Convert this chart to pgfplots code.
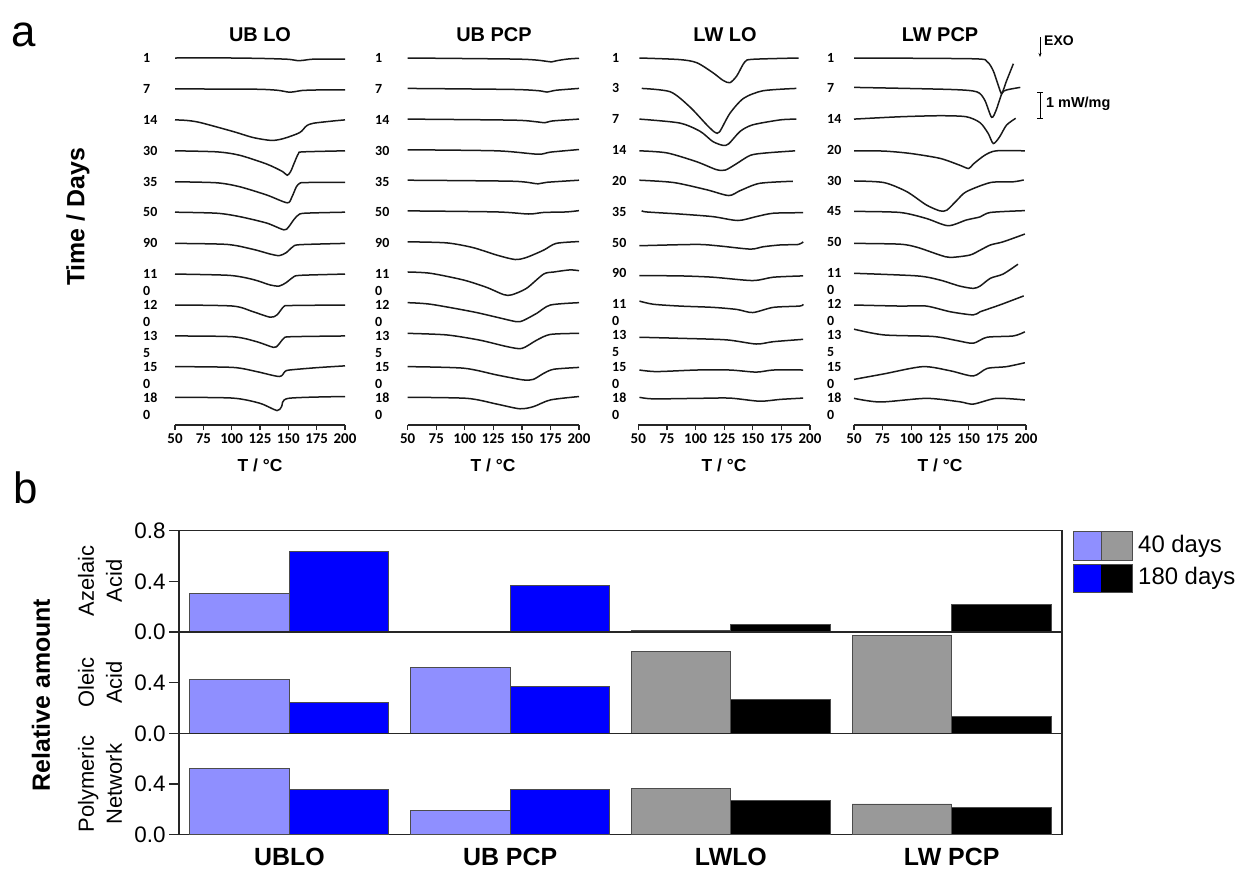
\documentclass[border=0pt]{standalone}
\usepackage{pgfplots}
\pgfplotsset{compat=1.18}
\usetikzlibrary{arrows.meta}
\usepackage{fontspec}
\setmainfont{Liberation Sans}
\newfontfamily\carl{Carlito}
\definecolor{ubl}{RGB}{143,143,255}
\definecolor{ubd}{RGB}{0,0,255}
\definecolor{lwl}{RGB}{153,153,153}
\definecolor{lwd}{RGB}{0,0,0}
\definecolor{crv}{RGB}{25,25,25}
\newcommand\fs[1]{\fontsize{#1}{#1}\selectfont}
\pgfplotsset{
 dscax/.style={scale only axis, height=380bp, xmin=50, xmax=200, ymin=-14.115, ymax=0.5,
   axis x line=bottom, axis y line=none, axis line style={-, line width=1.3bp, black!85},
   xtick={50,75,...,200}, tick align=outside, major tick length=5bp,
   tick style={line width=1.2bp, black!85},
   xticklabel style={font=\carl\bfseries\fs{15}},
   /pgf/number format/assume math mode=true, clip=false, anchor=south west},
 dsc/.style={line width=1.5bp, crv, smooth, tension=0.45, no markers},
 barax/.style={scale only axis, width=883bp, height=101.3bp, xmin=0.5, xmax=4.5, ymin=0, ymax=0.8,
   anchor=south west, axis line style={line width=1.5bp, black!85},
   xtick={1,2,3,4}, xticklabels={}, xtick style={draw=none},
   ytick pos=left, tick align=outside, major tick length=10bp,
   ytick style={line width=1.3bp, black!85},
   yticklabel style={font=\fs{22.5}, /pgf/number format/.cd, fixed, fixed zerofill, precision=1},
   /pgf/number format/assume math mode=true, ytick={0,0.4}},
 b40/.style={ybar, bar width=99.5bp, bar shift=-49.75bp, draw=black!70, line width=0.9bp},
 b180/.style={ybar, bar width=99.5bp, bar shift=49.75bp, draw=black!70, line width=0.9bp},
}
\newcommand\crv[2]{\addplot[dsc, y filter/.expression={y-#1}] coordinates {#2};}
\tikzset{lab/.style={anchor=west, font=\carl\bfseries\fs{14}, inner sep=0pt}}
\begin{document}
\begin{tikzpicture}[x=1bp,y=-1bp]
\path[use as bounding box] (0,0) rectangle (1246,869);
% ---------------- panel a ----------------
\begin{axis}[dscax, at={(175bp,-425bp)}, width=170bp]
\crv{0}{(50,0)(100,0)(130,-0.02)(150,-0.05)(158,-0.10)(163,-0.09)(170,-0.05)(180,-0.04)(200,-0.04)}
\crv{1.19}{(50,0)(120,-0.01)(140,-0.05)(150,-0.12)(155,-0.11)(162,-0.06)(175,-0.04)(200,-0.04)}
\crv{2.38}{(50,0)(60,-0.02)(72,-0.10)(101.5,-0.45)(119,-0.68)(135,-0.79)(145.6,-0.72)(160,-0.49)(166,-0.23)(172,-0.13)(190,-0.04)(200,0)}
\crv{3.57}{(50,0)(87,-0.04)(107,-0.17)(131,-0.51)(145,-0.80)(149,-0.94)(152,-0.80)(155,-0.49)(159,-0.10)(163,-0.04)(200,0)}
\crv{4.76}{(50,0)(87,-0.04)(107,-0.19)(131,-0.51)(149,-0.81)(153,-0.60)(157,-0.20)(160,-0.06)(165,-0.03)(200,-0.02)}
\crv{5.93}{(50,0)(87,-0.04)(107,-0.17)(131,-0.42)(146,-0.68)(150,-0.58)(155,-0.28)(160,-0.07)(170,-0.03)(200,0)}
\crv{7.13}{(50,0)(96,-0.04)(119,-0.23)(134,-0.41)(142,-0.47)(148,-0.36)(154,-0.13)(160,-0.05)(200,0)}
\crv{8.31}{(50,0)(98,-0.05)(119,-0.21)(134,-0.42)(142,-0.46)(148,-0.33)(154,-0.13)(160,-0.05)(200,0)}
\crv{9.50}{(50,0)(101,-0.04)(119,-0.26)(134,-0.47)(140,-0.38)(146,-0.06)(152,-0.02)(200,0)}
\crv{10.69}{(50,0)(101,-0.03)(122,-0.22)(137,-0.44)(141,-0.35)(146,-0.09)(152,-0.03)(200,0)}
\crv{11.87}{(50,0)(101,-0.03)(122,-0.19)(142,-0.38)(147,-0.19)(151,-0.13)(175,-0.04)(200,0.03)}
\crv{13.05}{(50,0)(101,-0.03)(125,-0.23)(140,-0.51)(144,-0.36)(150,-0.04)(200,0.03)}
\end{axis}
\begin{axis}[dscax, at={(407.7bp,-425bp)}, width=171.3bp]
\crv{0}{(50,0)(142,-0.04)(163,-0.08)(176,-0.15)(181,-0.10)(190,-0.04)(200,-0.01)}
\crv{1.17}{(50,0)(142,-0.04)(165,-0.09)(172,-0.14)(180,-0.07)(200,0)}
\crv{2.35}{(50,0)(142,-0.04)(162,-0.10)(170,-0.14)(177,-0.07)(200,0)}
\crv{3.53}{(50,0)(128,-0.04)(164,-0.17)(175,-0.09)(200,0.01)}
\crv{4.70}{(50,0)(142,-0.04)(164,-0.14)(172,-0.08)(200,0)}
\crv{5.88}{(50,0)(128,-0.04)(156,-0.12)(169,-0.06)(189,-0.04)(200,0.01)}
\crv{7.07}{(50,0)(84,-0.04)(107,-0.22)(128,-0.51)(144,-0.68)(154,-0.60)(169,-0.32)(180,-0.06)(200,0.01)}
\crv{8.23}{(50,0)(70,-0.05)(99,-0.31)(119,-0.59)(134,-0.87)(141,-0.88)(154,-0.63)(169,-0.08)(178,0)(192,0.08)(200,0.05)}
\crv{9.41}{(50,0)(70,-0.06)(107,-0.35)(128,-0.56)(145,-0.73)(151,-0.69)(163,-0.41)(175,-0.09)(200,0)}
\crv{10.59}{(50,0)(84,-0.06)(113,-0.26)(137,-0.51)(150,-0.58)(163,-0.26)(175,-0.04)(200,0)}
\crv{11.87}{(50,0)(99,-0.06)(128,-0.32)(151,-0.51)(160,-0.49)(169,-0.26)(178,-0.10)(200,-0.03)}
\crv{13.05}{(50,0)(102,-0.04)(128,-0.26)(148,-0.44)(160,-0.36)(175,-0.10)(200,0.03)}
\end{axis}
\begin{axis}[dscax, at={(638.3bp,-425bp)}, width=171.7bp]
\crv{0}{(51,0)(86,-0.06)(101,-0.18)(115,-0.56)(124,-0.86)(130,-0.95)(136,-0.69)(143,-0.15)(150,-0.05)(190,0)}
\crv{1.17}{(53,0)(78,-0.13)(95,-0.71)(110,-1.41)(117,-1.69)(121,-1.67)(130,-0.96)(142,-0.38)(159,-0.09)(188,0)}
\crv{2.35}{(51,0)(86,-0.15)(104,-0.47)(115,-0.86)(124,-1.01)(129,-0.95)(139,-0.47)(150,-0.22)(174,-0.03)(188,0)}
\crv{3.57}{(51,0)(75,-0.08)(101,-0.42)(118,-0.72)(126,-0.74)(136,-0.49)(148,-0.17)(162,-0.08)(187,0)}
\crv{4.70}{(51,0)(81,-0.09)(110,-0.37)(129,-0.59)(139,-0.40)(156,-0.12)(185,-0.04)}
\crv{5.87}{(53,0)(57,-0.05)(86,-0.13)(115,-0.23)(137,-0.38)(153,-0.23)(168,-0.10)(194,-0.08)}
\crv{7.22}{(51,0)(101,0.05)(121,-0.01)(148,-0.13)(159,-0.04)(174,0.03)(190,0.05)(194,0.15)}
\crv{8.37}{(51,0)(86,-0.01)(115,-0.06)(150,-0.19)(168,-0.06)(194,-0.01)}
\crv{9.35}{(51,0)(63,-0.12)(86,-0.19)(115,-0.24)(136,-0.32)(150,-0.44)(168,-0.24)(191,-0.19)(194,-0.12)}
\crv{10.74}{(51,0)(86,-0.04)(127,-0.10)(153,-0.26)(168,-0.17)(194,-0.08)}
\crv{12.0}{(51,0)(66,-0.06)(101,0)(130,0)(153,-0.08)(168,0)(194,0)}
\crv{13.05}{(51,0)(63,-0.06)(101,-0.04)(130,-0.03)(156,-0.15)(174,-0.08)(194,-0.03)}
\end{axis}
\begin{axis}[dscax, at={(854bp,-425bp)}, width=172bp]
\crv{0}{(50,0)(154,-0.03)(166,-0.14)(171.5,-0.50)(177,-1.21)(179,-1.36)(183,-0.88)(189,-0.22)}
\crv{1.13}{(50,0)(134,-0.08)(157,-0.17)(164,-0.49)(170,-1.15)(174,-0.87)(179,-0.23)(183,-0.10)(195,0)}
\crv{2.35}{(50,0)(90,0.09)(125,0.13)(148,0.09)(160,-0.14)(167,-0.55)(171.5,-0.94)(177,-0.68)(183,-0.23)(191,0.03)}
\crv{3.57}{(50,0)(76,-0.01)(99,-0.10)(125,-0.29)(142,-0.55)(150,-0.68)(154,-0.51)(164,-0.17)(174,0)(199,0)}
\crv{4.73}{(50,0)(76,-0.06)(96,-0.41)(113,-0.92)(125,-1.15)(131,-1.12)(140,-0.73)(148,-0.41)(169,-0.06)(189,-0.03)(198,0.04)}
\crv{5.90}{(50,0)(90,-0.04)(113,-0.27)(132,-0.55)(148,-0.33)(160,-0.21)(169,-0.04)(199,0.03)}
\crv{7.13}{(50,0)(90,-0.03)(105,-0.15)(125,-0.45)(134,-0.54)(151,-0.45)(160,-0.26)(169,-0.06)(180,0.06)(199,0.36)}
\crv{8.28}{(50,0)(105,-0.10)(125,-0.26)(142,-0.49)(154,-0.58)(160,-0.49)(169,-0.19)(180,-0.03)(193,0.35)}
\crv{9.50}{(50,0)(90,-0.04)(113,-0.04)(134,-0.26)(154,-0.38)(160,-0.26)(177,0)(198,0.35)}
\crv{10.43}{(50,0)(76,-0.22)(119,-0.28)(140,-0.44)(154,-0.54)(166,-0.31)(189,-0.26)(199,-0.10)}
\crv{12.36}{(50,0)(76,0.21)(110,0.49)(134,0.33)(154,0.13)(166,0.42)(183,0.49)(199,0.64)}
\crv{13.09}{(50,0)(73,-0.14)(113,0)(142,-0.13)(154,-0.22)(174,0)(199,-0.06)}
\end{axis}
% curve labels
\foreach \xx in {143,375}{
 \foreach \t/\yy in {1/58,7/89,14/120,30/151,35/182,50/212,90/243,11/274,0/291,12/305,0/322,13/336,5/353,15/367,0/384,18/398,0/415}
  \node[lab] at (\xx,\yy) {\t};}
\foreach \t/\yy in {1/58,3/88,7/119,14/150,20/181,35/212,50/243,90/273,11/304,0/321,13/335,5/352,15/367,0/384,18/398,0/415}
  \node[lab] at (612,\yy) {\t};
\foreach \t/\yy in {1/58,7/88,14/119,20/150,30/181,45/211,50/242,11/273,0/290,12/304,0/321,13/335,5/352,15/367,0/384,18/398,0/415}
  \node[lab] at (827,\yy) {\t};
% titles
\foreach \xx/\t in {260/UB LO,494/UB PCP,725/LW LO,940/LW PCP}
  \node[font=\bfseries\fs{20}] at (\xx,35) {\t};
\foreach \xx in {260,493,724,940}
  \node[font=\bfseries\fs{17.5}] at (\xx,465) {T / °C};
\node[rotate=90, font=\bfseries\fs{25}] at (78,217) {Time / Days};
\node[anchor=west, inner sep=0pt, font=\fs{44}] at (11,35) {a};
\node[anchor=west, inner sep=0pt, font=\fs{44}] at (13,488) {b};
\draw[-{Stealth[length=4bp,width=3bp]}, line width=0.6bp] (1040,37) -- (1040,57);
\node[anchor=west, inner sep=0pt, font=\bfseries\fs{14}] at (1044,41) {EXO};
\draw[line width=0.9bp] (1037,92)--(1043,92) (1040,92)--(1040,118) (1037,118)--(1043,118);
\node[anchor=west, inner sep=0pt, font=\bfseries\fs{14.5}] at (1046,104) {1 mW/mg};
% ---------------- panel b ----------------
\begin{axis}[barax, at={(179bp,-632bp)}, ytick={0,0.4,0.8}]
\addplot[b40, fill=ubl] coordinates {(1,0.305)};
\addplot[b180, fill=ubd] coordinates {(1,0.633)(2,0.365)};
\addplot[b40, fill=lwl] coordinates {(3,0.013)(4,0.004)};
\addplot[b180, fill=lwd] coordinates {(3,0.058)(4,0.215)};
\end{axis}
\begin{axis}[barax, at={(179bp,-733.3bp)}]
\addplot[b40, fill=ubl] coordinates {(1,0.426)(2,0.518)};
\addplot[b180, fill=ubd] coordinates {(1,0.244)(2,0.373)};
\addplot[b40, fill=lwl] coordinates {(3,0.646)(4,0.772)};
\addplot[b180, fill=lwd] coordinates {(3,0.270)(4,0.134)};
\end{axis}
\begin{axis}[barax, at={(179bp,-834.6bp)}, xticklabels={UBLO,UB PCP,LWLO,LW PCP},
  xticklabel style={font=\bfseries\fs{25}}]
\addplot[b40, fill=ubl] coordinates {(1,0.526)(2,0.189)};
\addplot[b180, fill=ubd] coordinates {(1,0.355)(2,0.355)};
\addplot[b40, fill=lwl] coordinates {(3,0.363)(4,0.242)};
\addplot[b180, fill=lwd] coordinates {(3,0.273)(4,0.218)};
\end{axis}
\node[rotate=90, font=\bfseries\fs{25}] at (41,695) {Relative amount};
\node[rotate=90, align=center, font=\fontsize{22}{28}\selectfont] at (100,581) {Azelaic\\Acid};
\node[rotate=90, align=center, font=\fontsize{22}{28}\selectfont] at (100,682.5) {Oleic\\Acid};
\node[rotate=90, align=center, font=\fontsize{22}{28}\selectfont] at (100,784) {Polymeric\\Network};
% legend
\fill[ubl] (1073,531.7) rectangle (1101,560);
\fill[lwl] (1101,531.7) rectangle (1132,560);
\draw[black!70, line width=0.9bp] (1073,531.7) rectangle (1132,560) (1101,531.7)--(1101,560);
\fill[ubd] (1073,564) rectangle (1101,592.3);
\fill[lwd] (1101,564) rectangle (1132,592.3);
\draw[black!70, line width=0.9bp] (1073,564) rectangle (1132,592.3);
\node[anchor=west, inner sep=0pt, font=\fs{24}] at (1138,546) {40 days};
\node[anchor=west, inner sep=0pt, font=\fs{24}] at (1138,578) {180 days};
\end{tikzpicture}
\end{document}
